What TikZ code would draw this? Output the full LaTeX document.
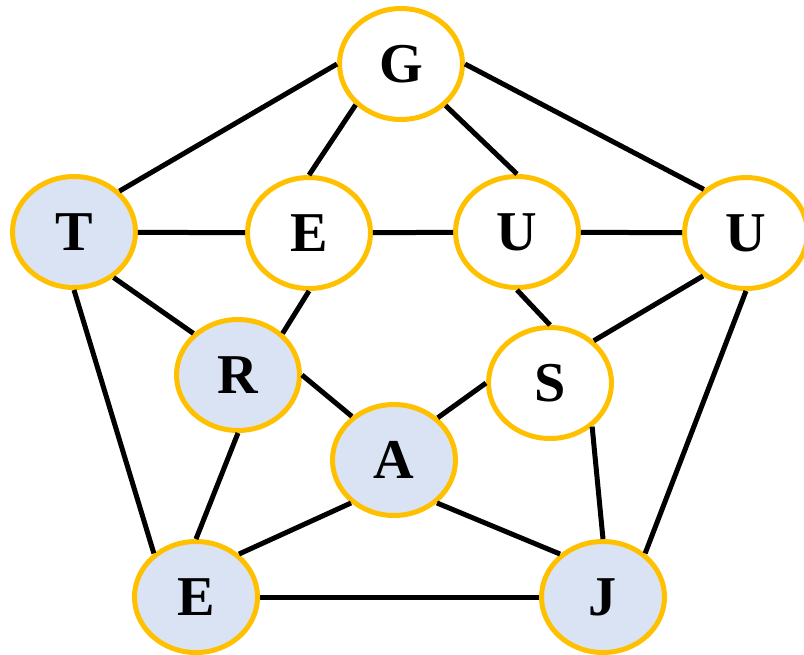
\documentclass[tikz,border=0pt]{standalone}
\usepackage{fontspec}
\setmainfont{Liberation Serif}
\usepackage{tikz}
\usetikzlibrary{shapes.geometric}
\definecolor{vxgold}{RGB}{255,192,0}
\definecolor{vxblue}{RGB}{218,227,243}

\begin{document}
\begin{tikzpicture}[x=0.02cm, y=-0.02cm,
    vertex/.style={ellipse, draw=vxgold, line width=0.1cm, fill=white,
        minimum width=2.46cm, minimum height=2.22cm, inner sep=0pt,
        font=\fontsize{32}{32}\selectfont\bfseries},
    marked/.style={vertex, fill=vxblue},
    link/.style={line width=0.1cm, color=black}
]
\useasboundingbox (0,0) rectangle (804,654);

\node[vertex] (g)    at (401,64)  {G};
\node[marked] (t)    at (74,232)  {T};
\node[vertex] (eup)  at (309,233) {E};
\node[vertex] (uin)  at (517,232) {U};
\node[vertex] (uout) at (746,233) {U};
\node[marked] (r)    at (238,375) {R};
\node[vertex] (s)    at (550,383) {S};
\node[marked] (a)    at (394,460) {A};
\node[marked] (elow) at (196,597) {E};
\node[marked] (j)    at (603,597) {J};

\draw[link] (g.west)   -- (t.42);
\draw[link] (g.222)    -- (eup.north);
\draw[link] (g.317)    -- (uin.north);
\draw[link] (g.east)   -- (uout.134);
\draw[link] (t)        -- (eup);
\draw[link] (eup)      -- (uin);
\draw[link] (uin)      -- (uout);
\draw[link] (t.311)    -- (r.137);
\draw[link] (t.south)  -- (elow.134);
\draw[link] (eup.south)-- (r.43);
\draw[link] (uin.south)-- (s.north);
\draw[link] (uout.225) -- (s.44);
\draw[link] (uout.south) -- (j.46);
\draw[link] (r.east)   -- (a.134);
\draw[link] (r.south)  -- (elow.north);
\draw[link] (s.west)   -- (a.44);
\draw[link] (s.314)    -- (j.north);
\draw[link] (a.225)    -- (elow.45);
\draw[link] (a.315)    -- (j.135);
\draw[link] (elow)     -- (j);
\end{tikzpicture}
\end{document}
